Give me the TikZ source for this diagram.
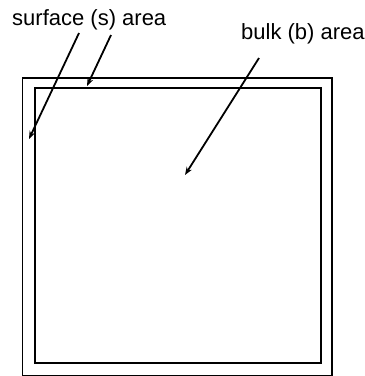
\documentclass[tikz,border=0pt]{standalone}
\usepackage{fontspec}
\setmainfont{Liberation Sans}
\usetikzlibrary{arrows.meta, positioning}

\begin{document}
\begin{tikzpicture}[
            x=1pt, y=-1pt,
            region/.style={draw, line width=1.8pt, inner sep=0pt},
            lbl/.style={font=\fontsize{22}{26}\selectfont, inner sep=0pt, anchor=base west},
            arr/.style={-{Stealth[length=8pt, width=6pt]}, line width=1.8pt}
        ]
            \useasboundingbox (0,0) rectangle (365,376);

            \node[region, minimum width=309.5pt, minimum height=297.5pt] (outer) at (177.3,226.8) {};
            \node[region, minimum width=286pt, minimum height=275pt] (inner) at (177.7,225.8) {};

            \node[lbl] (surf) at (12,25) {surface (s) area};
            \node[lbl] (bulk) at (241,39.5) {bulk (b) area};

            % arrow ends
            \coordinate (s1) at (79,33);
            \coordinate (s1tip) at (29,139);
            \coordinate (s2) at (111,35);
            \coordinate (s2tip) at (87,86);
            \coordinate (b1) at (259,58);
            \coordinate (b1tip) at (185,175);

            \draw[arr] (s1) -- (s1tip);
            \draw[arr] (s2) -- (s2tip);
            \draw[arr] (b1) -- (b1tip);
        \end{tikzpicture}
\end{document}
